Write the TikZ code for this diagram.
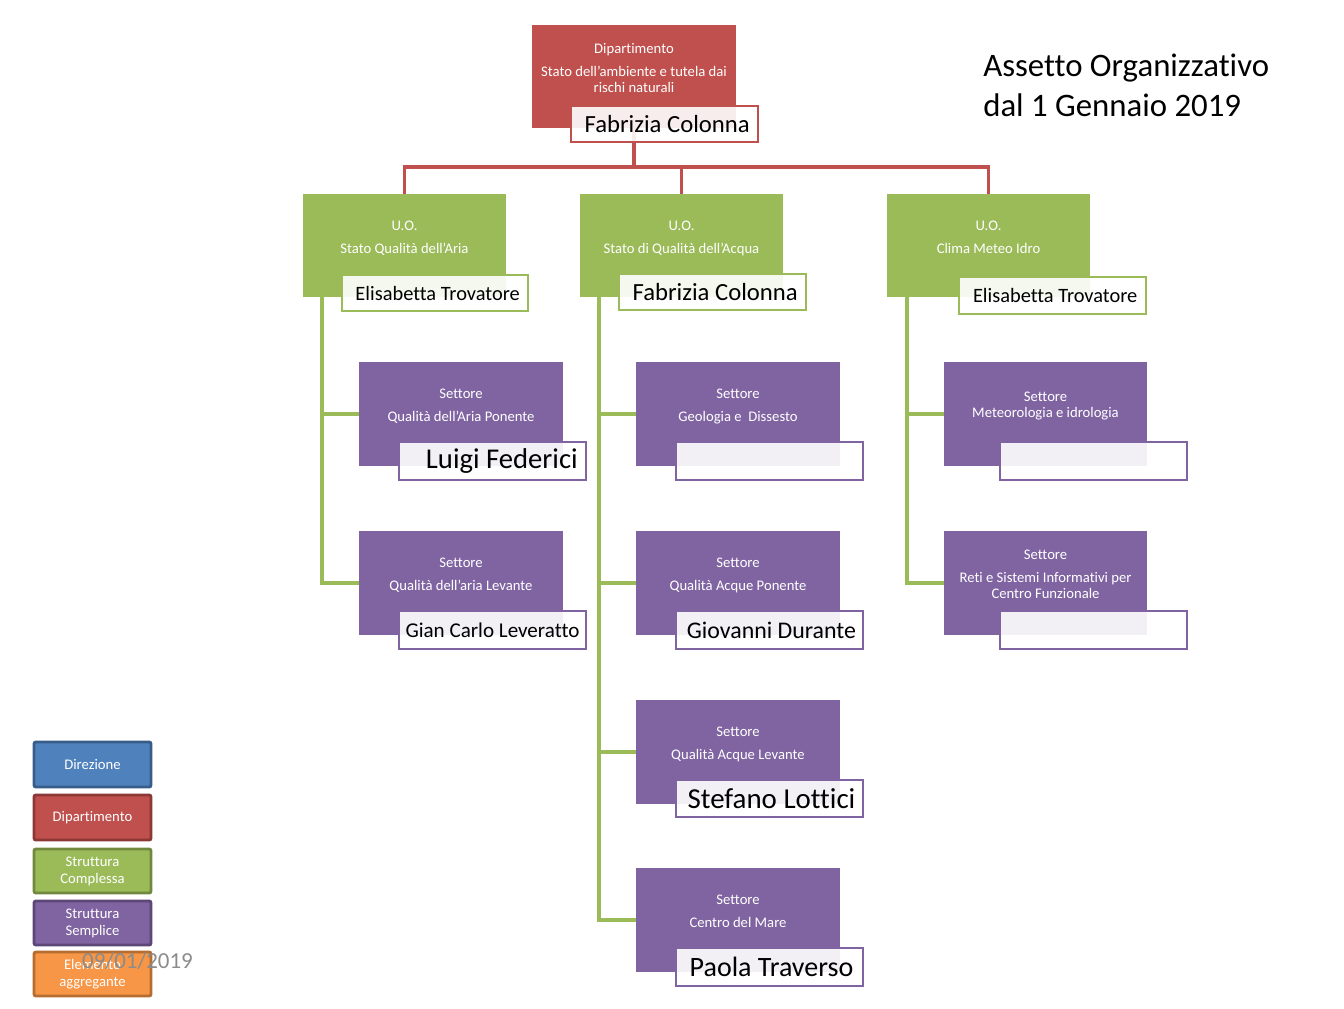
\documentclass[tikz,border=0pt]{standalone}
\usepackage{fontspec}
\setmainfont[Ligatures={NoCommon}]{Carlito}
\definecolor{cred}{HTML}{C0504D}
\definecolor{cgreen}{HTML}{9BBB59}
\definecolor{cpurple}{HTML}{8064A2}
\definecolor{cblue}{HTML}{4F81BD}
\definecolor{corange}{HTML}{F79646}
\definecolor{bblue}{HTML}{385D8A}
\definecolor{bred}{HTML}{8C3836}
\definecolor{bgreen}{HTML}{71893F}
\definecolor{bpurple}{HTML}{5C4776}
\definecolor{borange}{HTML}{B66D31}
\definecolor{dategray}{HTML}{8B8B8B}
\tikzset{
  box/.style={rectangle, inner sep=0pt, draw=none},
  namebox/.style={rectangle, inner sep=0pt, fill=white, fill opacity=0.9, text opacity=1, line width=2.2pt, text=black},
  txt/.style={anchor=base, inner sep=0pt, text=white, font=\fontsize{11}{13}\selectfont},
  legend/.style={rectangle, rounded corners=1.5pt, line width=2.2pt, inner sep=0pt, align=center, text=white, font=\fontsize{11}{12.8}\selectfont},
  redline/.style={draw=cred, line width=2.4pt},
  greenline/.style={draw=cgreen, line width=2.4pt}
}
\newcommand\bx[7]{\node[#6, minimum width={(#4-#2)*0.75pt}, minimum height={(#5-#3)*0.75pt}] (#1) at ({(#2+#4)/2},{(#3+#5)/2}) {#7};}
\newcommand\tl[4]{\node[txt] (#1) at (#2,{#3+4.5}) {#4};}
\begin{document}
\begin{tikzpicture}[x=0.75pt,y=-0.75pt]
\useasboundingbox (0,0) rectangle (1344,1008);
\coordinate (bus) at (634,167);
\coordinate (t1) at (322,297);
\coordinate (t2) at (599,297);
\coordinate (t3) at (907,297);
% boxes
\bx{dept}{532}{25}{736}{128}{box, fill=cred}{}
\bx{uo1}{303}{194}{506}{297}{box, fill=cgreen}{}
\bx{uo2}{580}{194}{783}{297}{box, fill=cgreen}{}
\bx{uo3}{887}{194}{1090}{297}{box, fill=cgreen}{}
\bx{s11}{359}{362}{563}{466}{box, fill=cpurple}{}
\bx{s12}{359}{531}{563}{635}{box, fill=cpurple}{}
\bx{s21}{636}{362}{840}{466}{box, fill=cpurple}{}
\bx{s22}{636}{531}{840}{635}{box, fill=cpurple}{}
\bx{s23}{636}{700}{840}{804}{box, fill=cpurple}{}
\bx{s24}{636}{868}{840}{972}{box, fill=cpurple}{}
\bx{s31}{944}{362}{1147}{466}{box, fill=cpurple}{}
\bx{s32}{944}{531}{1147}{635}{box, fill=cpurple}{}
% connectors
\draw[redline] (dept.south) -- (bus);
\draw[redline] (uo1.north) |- (bus) -| (uo3.north);
\draw[redline] (uo2.north) -- (uo2.north |- bus);
\draw[greenline] (t1) |- (s11.west);
\draw[greenline] (t1) |- (s12.west);
\draw[greenline] (t2) |- (s21.west);
\draw[greenline] (t2) |- (s22.west);
\draw[greenline] (t2) |- (s23.west);
\draw[greenline] (t2) |- (s24.west);
\draw[greenline] (t3) |- (s31.west);
\draw[greenline] (t3) |- (s32.west);
% texts in boxes
\tl{d1}{634}{49}{Dipartimento}
\tl{d2}{634}{72}{Stato dell’ambiente e tutela dai}
\tl{d3}{634}{88}{rischi naturali}
\tl{u1a}{404.5}{226}{U.O.}
\tl{u1b}{404.5}{249}{Stato Qualità dell’Aria}
\tl{u2a}{681.5}{226}{U.O.}
\tl{u2b}{681.5}{249}{Stato di Qualità dell’Acqua}
\tl{u3a}{988.5}{226}{U.O.}
\tl{u3b}{988.5}{249}{Clima Meteo Idro}
\tl{s11a}{461}{394}{Settore}
\tl{s11b}{461}{417}{Qualità dell’Aria Ponente}
\tl{s12a}{461}{563}{Settore}
\tl{s12b}{461}{586}{Qualità dell’aria Levante}
\tl{s21a}{738}{394}{Settore}
\tl{s21b}{738}{417}{Geologia e~ Dissesto}
\tl{s22a}{738}{563}{Settore}
\tl{s22b}{738}{586}{Qualità Acque Ponente}
\tl{s23a}{738}{732}{Settore}
\tl{s23b}{738}{755}{Qualità Acque Levante}
\tl{s24a}{738}{900}{Settore}
\tl{s24b}{738}{923}{Centro del Mare}
\tl{s31a}{1045.5}{397}{Settore}
\tl{s31b}{1045.5}{413}{Meteorologia e idrologia}
\tl{s32a}{1045.5}{555}{Settore}
\tl{s32b}{1045.5}{578}{Reti e Sistemi Informativi per}
\tl{s32c}{1045.5}{594}{Centro Funzionale}
% name boxes
\bx{n0}{571}{106}{758}{142}{namebox, draw=cred, font=\fontsize{18.5}{20}\selectfont}{\hspace*{4pt}Fabrizia Colonna}
\bx{n1}{342}{275}{528}{311}{namebox, draw=cgreen, font=\fontsize{15.3}{17}\selectfont}{\hspace*{4pt}Elisabetta Trovatore}
\bx{n2}{619}{274}{806}{310}{namebox, draw=cgreen, font=\fontsize{18.5}{20}\selectfont}{\hspace*{4pt}Fabrizia Colonna}
\bx{n3}{959}{277}{1146}{314}{namebox, draw=cgreen, font=\fontsize{15.3}{17}\selectfont}{\hspace*{4pt}Elisabetta Trovatore}
\bx{m11}{399}{442}{586}{480}{namebox, draw=cpurple, font=\fontsize{21.5}{23}\selectfont}{\hspace*{14pt}Luigi Federici}
\bx{m12}{399}{611}{586}{649}{namebox, draw=cpurple, font=\fontsize{15.8}{17}\selectfont}{Gian Carlo Leveratto}
\bx{m21}{676}{442}{863}{480}{namebox, draw=cpurple}{}
\bx{m22}{676}{611}{863}{649}{namebox, draw=cpurple, font=\fontsize{17.9}{19}\selectfont}{\hspace*{3pt}Giovanni Durante}
\bx{m23}{676}{780}{863}{817}{namebox, draw=cpurple, font=\fontsize{21.7}{23}\selectfont}{\hspace*{3pt}Stefano Lottici}
\bx{m24}{676}{948}{863}{986}{namebox, draw=cpurple, font=\fontsize{21}{23}\selectfont}{\hspace*{3pt}Paola Traverso}
\bx{m31}{1000}{442}{1187}{480}{namebox, draw=cpurple}{}
\bx{m32}{1000}{611}{1187}{649}{namebox, draw=cpurple}{}
% title
\node[anchor=base west, inner sep=0pt, font=\fontsize{24.6}{28}\selectfont] (title1) at (983,76) {Assetto Organizzativo};
\node[anchor=base west, inner sep=0pt, font=\fontsize{24.6}{28}\selectfont] (title2) at (983,116) {dal 1 Gennaio 2019};
% legend
\bx{lg1}{34}{742}{151}{787}{legend, fill=cblue, draw=bblue}{Direzione}
\bx{lg2}{34}{795}{151}{840}{legend, fill=cred, draw=bred}{Dipartimento}
\bx{lg3}{34}{849}{151}{893}{legend, fill=cgreen, draw=bgreen}{Struttura\\Complessa}
\bx{lg4}{34}{901}{151}{945}{legend, fill=cpurple, draw=bpurple}{Struttura\\Semplice}
\bx{lg5}{34}{952}{151}{996}{legend, fill=corange, draw=borange}{Elemento\\aggregante}
\node[anchor=base, inner sep=0pt, text=dategray, font=\fontsize{17.2}{19}\selectfont] (date) at (137.5,968) {09/01/2019};
\end{tikzpicture}
\end{document}
